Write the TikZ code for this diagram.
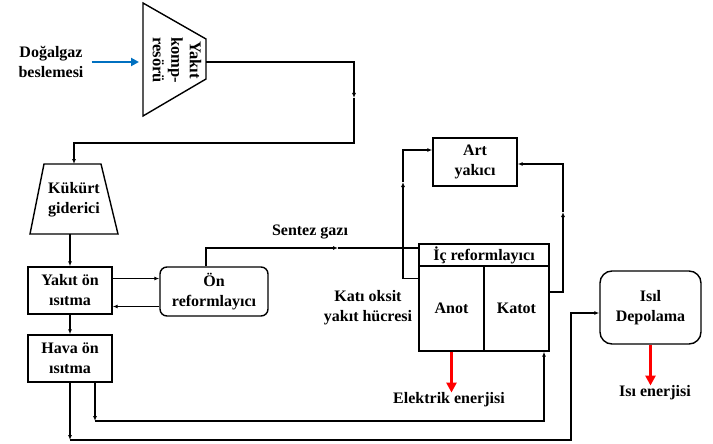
\documentclass[tikz,border=0pt]{standalone}
\usepackage{fontspec}
\setmainfont{Liberation Serif}
\usetikzlibrary{positioning,arrows.meta}

\definecolor{feedblue}{RGB}{0,112,192}

\begin{document}
\begin{tikzpicture}[
    x=1pt, y=-1pt,
    font=\fontsize{16}{20}\selectfont\bfseries,
    box/.style={draw, line width=1.4pt, align=center, inner sep=0pt},
    blk/.style={box, minimum width=84pt, minimum height=47pt},
    rbox/.style={box, rounded corners=7pt},
    lbl/.style={align=center, inner sep=0pt},
    wire/.style={line width=1.4pt},
    flow/.style={-{Latex[length=5pt,width=4pt]}, line width=1.4pt},
    heat/.style={-{Triangle[length=10pt,width=10pt]}, line width=2.6pt, red},
    feed/.style={-{Triangle[length=8pt,width=8pt]}, line width=2.8pt, feedblue},
  ]
  \useasboundingbox (0,0) rectangle (713,444);

  % Fuel compressor and desulphuriser (drawn as trapezoids)
  \draw[wire] (143,3) -- (206,39) -- (206,79) -- (143,116) -- cycle;
  \node[lbl, rotate=-90, font=\fontsize{16.5}{18.5}\selectfont\bfseries] (comp) at (177,60) {Yakıt\\komp-\\resörü};
  \coordinate (compin)  at (139,62);
  \coordinate (compout) at (206,62);

  \draw[wire] (44,164) -- (101,164) -- (118,234) -- (30,234) -- cycle;
  \node[lbl] (desulf) at (74,200) {Kükürt\\giderici};
  \coordinate (desulfin)  at (74,164);
  \coordinate (desulfout) at (70,234);

  % Pre-heaters and pre-reformer
  \node[blk] (fuelph) at (70,290.5) {Yakıt ön\\ısıtma};
  \node[blk] (airph)  at (70,358.5) {Hava ön\\ısıtma};
  \node[rbox, minimum width=108pt, minimum height=49pt] (prerf) at (214,291.5) {Ön\\reformlayıcı};

  % Fuel cell stack
  \node[box, minimum width=130pt, minimum height=22pt] (ir) at (484,255) {İç reformlayıcı};
  \node[box, minimum width=65pt, minimum height=85pt] (anot)  at (451.5,308.5) {Anot};
  \node[box, minimum width=65pt, minimum height=85pt] (katot) at (516.5,308.5) {Katot};
  \node[blk, minimum height=48pt] (afterb) at (475,162) {Art\\yakıcı};
  \node[rbox, rounded corners=12pt, minimum width=101pt, minimum height=73pt] (store) at (650.5,307.5) {Isıl\\Depolama};

  % Labels
  \node[lbl] (gas)   at (51,62)   {Doğalgaz\\beslemesi};
  \node[lbl] (syn)   at (310,232) {Sentez gazı};
  \node[lbl] (sofc)  at (368,308) {Katı oksit\\yakıt hücresi};
  \node[lbl] (elec)  at (449,400) {Elektrik enerjisi};
  \node[lbl] (heatx) at (655,393) {Isı enerjisi};

  % Feed and compressor line
  \draw[feed] ([xshift=8pt]gas.east) -- (compin);
  \coordinate (c1) at (354,98);
  \draw[flow] (compout) -| (c1);
  \draw[flow] (c1) |- (74,143) -- (desulfin);
  \draw[flow] (desulfout) -- (fuelph);

  % Fuel pre-heater <-> pre-reformer
  \coordinate (fa) at ([yshift=12pt]fuelph.east);
  \coordinate (fb) at ([yshift=-15pt]prerf.west);
  \draw[flow] (fa) -- (fa -| prerf.west);
  \draw[flow] (fb) -- (fb -| fuelph.east);
  \draw[flow] (fuelph) -- (airph);

  % Syngas to the stack
  \coordinate (sg) at (338,248);
  \draw[flow] ([xshift=-8pt]prerf.north) |- (sg);
  \draw[wire] (sg) -- (sg -| ir.west);

  % Stack exhaust to the afterburner
  \coordinate (ao) at ([yshift=-13pt]anot.north west);
  \coordinate (la) at (403,182);
  \draw[flow] (ao) -| (la);
  \draw[flow] (la) |- ([yshift=12pt]afterb.west);
  \coordinate (ko) at ([yshift=16.5pt]katot.east);
  \coordinate (ra) at (563,212);
  \draw[flow] (ko) -| (ra);
  \draw[flow] (ra) |- ([yshift=-2pt]afterb.east);

  % Air pre-heater outlets
  \coordinate (bb) at (95,421);
  \coordinate (kb) at ([xshift=27.5pt]katot.south);
  \draw[flow] (airph.south -| bb) -- (bb);
  \draw[flow] (bb) -| (kb);
  \coordinate (ba) at (70,440);
  \coordinate (sx) at (571,313);
  \draw[flow] (airph) -- (ba);
  \draw[flow] (ba) -| (sx) -- (sx -| store.west);

  % Energy outputs
  \draw[heat] (anot.south) -- (anot.south |- elec.north);
  \draw[heat] (store.south) -- (store.south |- heatx.north);

\end{tikzpicture}
\end{document}
